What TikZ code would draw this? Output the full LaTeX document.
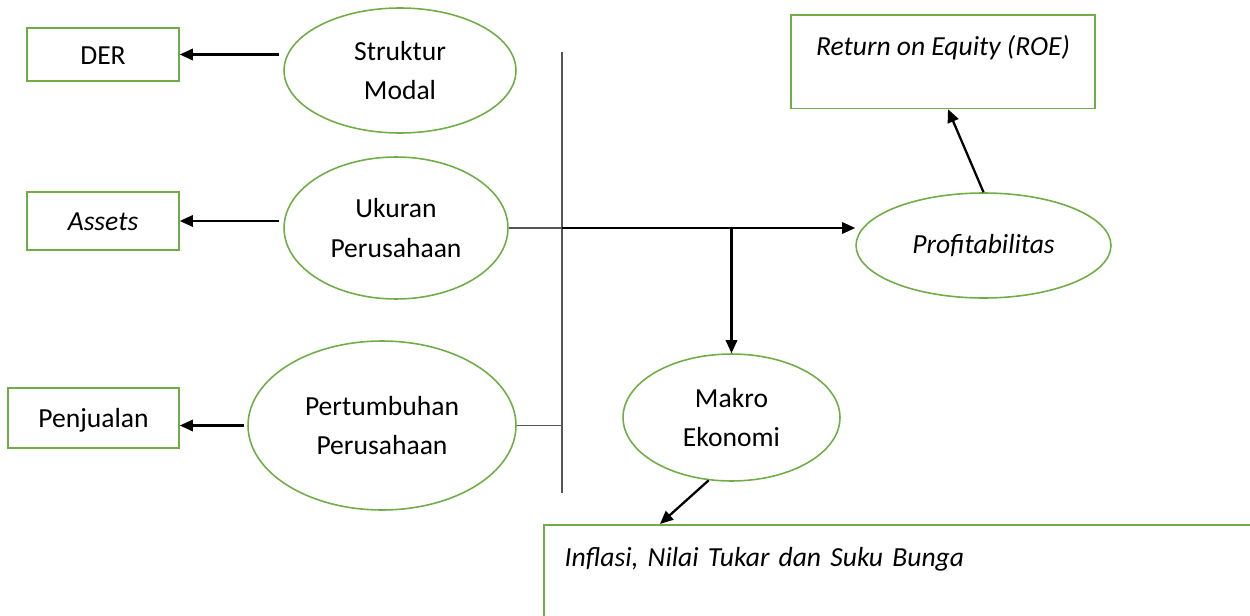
\documentclass[tikz,border=0pt]{standalone}
\usepackage{fontspec}
\setmainfont{Carlito}
\usepackage{tikz}
\usetikzlibrary{shapes.geometric,arrows.meta}
\definecolor{boxgreen}{RGB}{112,173,71}
\definecolor{linegray}{RGB}{85,85,85}

\begin{document}
\begin{tikzpicture}[
    x=0.02cm, y=-0.02cm,
    box/.style={rectangle, draw=boxgreen, line width=0.9pt, align=center, inner sep=0pt, text height=11.5pt, text depth=0.5pt, font=\fontsize{15.7}{22.7}\selectfont},
    var/.style={ellipse, draw=boxgreen, line width=0.9pt, align=center, inner sep=0pt, font=\fontsize{15.7}{22.7}\selectfont},
    arrow/.style={-{Triangle[length=7.5pt, width=6.5pt]}, line width=1.3pt},
    link/.style={draw=linegray, line width=0.75pt}
]
\clip (0,0) rectangle (1250,615);

% Indikator
\node[box, minimum width=3.04cm, minimum height=1.06cm] (der) at (103,54.5) {DER};
\node[box, minimum width=3.04cm, minimum height=1.16cm] (ast) at (103,221) {\textit{Assets}};
\node[box, minimum width=3.42cm, minimum height=1.2cm] (pjl) at (93.5,418) {Penjualan};

% Variabel
\node[var, minimum width=4.64cm, minimum height=2.5cm] (sm) at (400,70.5) {Struktur\\Modal};
\node[var, minimum width=4.48cm, minimum height=2.84cm] (up) at (396,228) {Ukuran\\Perusahaan};
\node[var, minimum width=5.36cm, minimum height=3.38cm] (pp) at (382,425.5) {Pertumbuhan\\Perusahaan};
\node[var, minimum width=5.1cm, minimum height=2.1cm] (prof) at (983.5,245.5) {\textit{Profitabilitas}};
\node[var, minimum width=4.34cm, minimum height=2.54cm] (makro) at (731.5,417.5) {Makro\\Ekonomi};

% Ukuran hasil
\node[box, anchor=north, minimum width=6.08cm, text height=12pt, text depth=18.9pt, inner ysep=11.2pt] (roe) at (943,14) {\textit{Return on Equity (ROE)}};
\node[box, anchor=north west, align=left, text width=14cm, text height=12pt, text depth=60pt, inner xsep=11.9pt, inner ysep=11.8pt] (inf) at (543,524) {\textit{Inflasi, Nilai Tukar dan Suku Bunga}};

% Garis tengah
\coordinate (vtop) at (562,52);
\coordinate (vbot) at (562,493);
\draw[link] (vtop) -- (vbot);

% Panah
\draw[arrow] ([xshift=-0.08cm]sm.west |- der.east) -- (der.east);
\draw[arrow] ([xshift=-0.08cm]up.west |- ast.east) -- (ast.east);
\draw[arrow] ([xshift=-0.06cm]pp.west) -- (pp.west -| pjl.east);
\draw[link] (up.east) -- (up.east -| vtop);
\draw[link] (pp.east) -- (pp.east -| vtop);
\draw[arrow] (up.east -| vtop) -- (up.east -| prof.west);
\draw[arrow] (up.east -| makro.north) -- (makro.north);
\draw[arrow] (prof.north) -- ([xshift=0.1cm]roe.south);
\draw[arrow] (makro.250) -- ([xshift=2.34cm]inf.north west);

\end{tikzpicture}
\end{document}
